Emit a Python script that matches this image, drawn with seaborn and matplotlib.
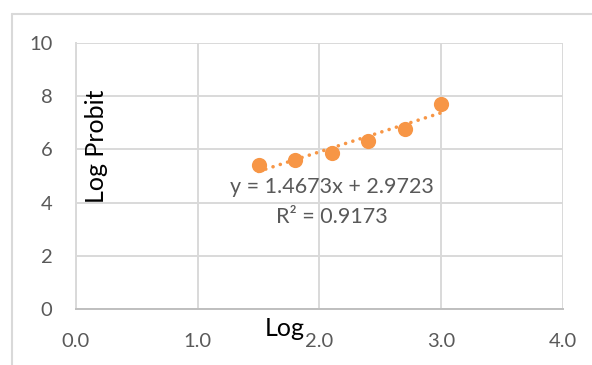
import numpy as np
import pandas as pd
import seaborn as sns
import matplotlib.pyplot as plt
from matplotlib.lines import Line2D

# values
log_dose = [1.5, 1.8, 2.1, 2.4, 2.7, 3.0]
log_probit = [5.41, 5.61, 5.85, 6.30, 6.75, 7.72]
x_ticks = [0.0, 1.0, 2.0, 3.0, 4.0]
y_ticks = [0, 2, 4, 6, 8, 10]
eq_text = "y = 1.4673x + 2.9723"
r2_text = "R² = 0.9173"

df = pd.DataFrame({'Log': log_dose, 'Log Probit': log_probit})

sns.set_style('white')
plt.rcParams['font.family'] = ['Lato', 'DejaVu Sans']

orange = '#F79646'
grey_txt = '#595959'
grid_c = '#d9d9d9'

fig = plt.figure(figsize=(5.92, 3.65), dpi=100)
ax = fig.add_axes([76/592, 1-309/365, 486.7/592, 266/365])

sns.regplot(data=df, x='Log', y='Log Probit', ax=ax, ci=None, truncate=True,
            scatter_kws={'s': 120, 'color': orange, 'linewidths': 0, 'alpha': 1, 'zorder': 3},
            line_kws={'color': orange, 'linewidth': 2.6, 'linestyle': (0, (0.01, 2.1)),
                      'dash_capstyle': 'round', 'zorder': 4})

ax.set_xlim(0, 4)
ax.set_ylim(0, 10)
ax.set_xticks(x_ticks)
ax.set_xticklabels([f'{t:.1f}' for t in x_ticks])
ax.set_yticks(y_ticks)
ax.set_yticklabels([str(t) for t in y_ticks])
ax.tick_params(axis='both', length=0, labelsize=14.5, colors=grey_txt)
ax.tick_params(axis='x', pad=17)
ax.tick_params(axis='y', pad=17)

ax.grid(True, color=grid_c, linewidth=1.4)
ax.set_axisbelow(True)
for s in ['top', 'right']:
    ax.spines[s].set_visible(False)
ax.spines['left'].set_color(grid_c)
ax.spines['left'].set_linewidth(1.4)
ax.spines['bottom'].set_color('#bfbfbf')
ax.spines['bottom'].set_linewidth(1.4)

ax.set_xlabel('Log', fontsize=18, color='black')
ax.xaxis.set_label_coords((285-76)/486.7, (309-329)/266)
ax.xaxis.label.set_va('center')
ax.set_ylabel('Log Probit', fontsize=18, color='black')
ax.yaxis.set_label_coords((96-76)/486.7, (309-146)/266)
ax.yaxis.label.set_va('center')

ax.text(2.107, 4.59, eq_text, ha='center', va='center', fontsize=15.5, color=grey_txt)
ax.text(2.107, 3.47, r2_text, ha='center', va='center', fontsize=15.5, color=grey_txt)

# chart area border (only top and left visible in the crop)
fig.add_artist(Line2D([12/592, 1], [1-14/365, 1-14/365], color=grid_c, linewidth=1.5,
                      transform=fig.transFigure))
fig.add_artist(Line2D([12/592, 12/592], [0, 1-14/365], color=grid_c, linewidth=1.5,
                      transform=fig.transFigure))

fig.savefig('out.png', dpi=100)
